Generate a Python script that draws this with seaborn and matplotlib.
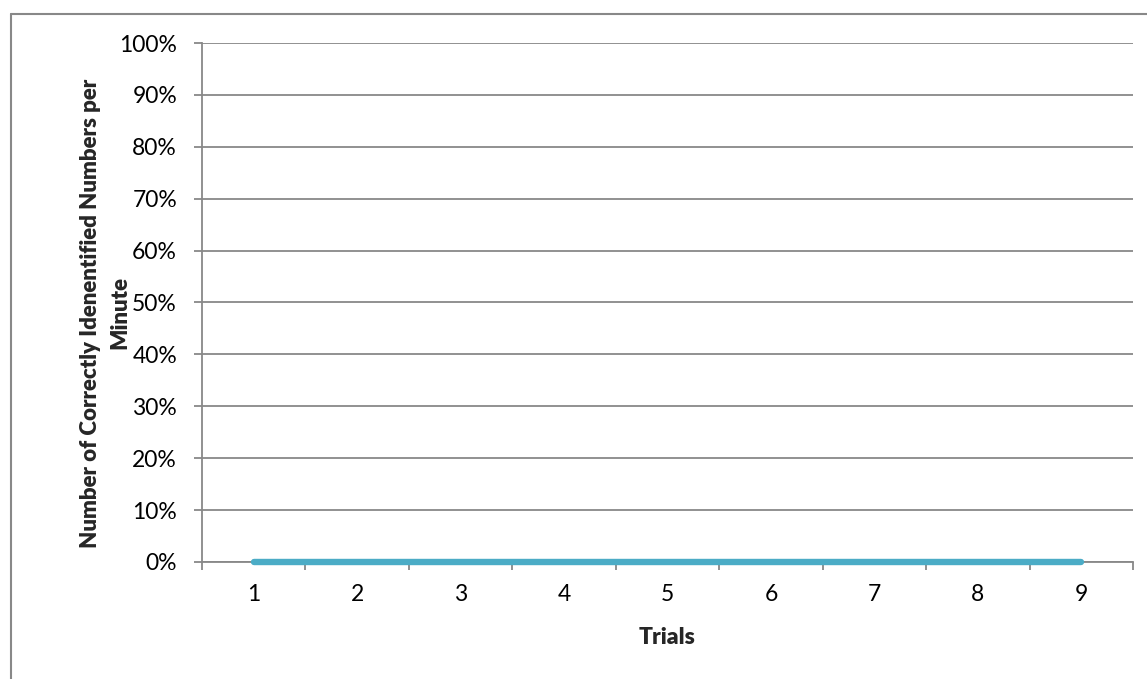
import matplotlib
matplotlib.use("Agg")
import matplotlib.pyplot as plt
from matplotlib.lines import Line2D
from matplotlib.ticker import FuncFormatter, MultipleLocator
import seaborn as sns
import pandas as pd

trials = [1, 2, 3, 4, 5, 6, 7, 8, 9]
correct_per_minute = [0, 0, 0, 0, 0, 0, 0, 0, 0]

sns.set_theme(style="white")
plt.rcParams["font.family"] = ["Lato", "DejaVu Sans"]

line_color = "#4BACC6"
grid_color = "#888888"
fs = 16.5

df = pd.DataFrame({"Trials": trials, "Value": correct_per_minute})

fig = plt.figure(figsize=(11.47, 6.79), dpi=100)
ax = fig.add_axes([202 / 1147, 1 - 562 / 679, (1133 - 202) / 1147, (562 - 43) / 679])

sns.lineplot(data=df, x="Trials", y="Value", color=line_color, linewidth=4.6,
             solid_capstyle="round", clip_on=False, ax=ax, zorder=3)

ax.set_xlim(0.5, 9.5)
ax.set_ylim(0, 1)
ax.yaxis.set_major_locator(MultipleLocator(0.1))
ax.yaxis.set_major_formatter(FuncFormatter(lambda v, p: f"{v * 100:.0f}%"))
ax.set_xticks(trials)
ax.set_xticks([t + 0.5 for t in range(0, 10)], minor=True)
ax.grid(axis="y", color=grid_color, linewidth=1.3)
ax.set_axisbelow(True)

for s in ["top", "right"]:
    ax.spines[s].set_visible(False)
for s in ["left", "bottom"]:
    ax.spines[s].set_color(grid_color)
    ax.spines[s].set_linewidth(1.3)

ax.tick_params(axis="y", which="major", left=True, length=6, width=1.3,
               color=grid_color, labelsize=fs, pad=12, labelcolor="black")
ax.tick_params(axis="x", which="major", bottom=False, length=0, labelsize=fs,
               pad=16, labelcolor="black")
ax.tick_params(axis="x", which="minor", bottom=True, length=6, width=1.3,
               color=grid_color)

ax.set_xlabel("Trials", fontsize=fs, fontweight="heavy")
ax.xaxis.set_label_coords(0.5, -0.125)
ax.set_ylabel("Number of Correctly Idenentified Numbers per\nMinute",
              fontsize=16, fontweight="heavy", linespacing=1.55)
ax.yaxis.set_label_coords(-0.104, 0.48)
ax.yaxis.label.set_va("center")

# outer frame of the chart area (only top and left visible)
fx = 10.5 / 1147
fy = 1 - 13.5 / 679
fig.add_artist(Line2D([fx, fx], [0, fy], color=grid_color, linewidth=1.5,
                      transform=fig.transFigure))
fig.add_artist(Line2D([fx, 1], [fy, fy], color=grid_color, linewidth=1.5,
                      transform=fig.transFigure))

fig.savefig("out.png", dpi=100)
